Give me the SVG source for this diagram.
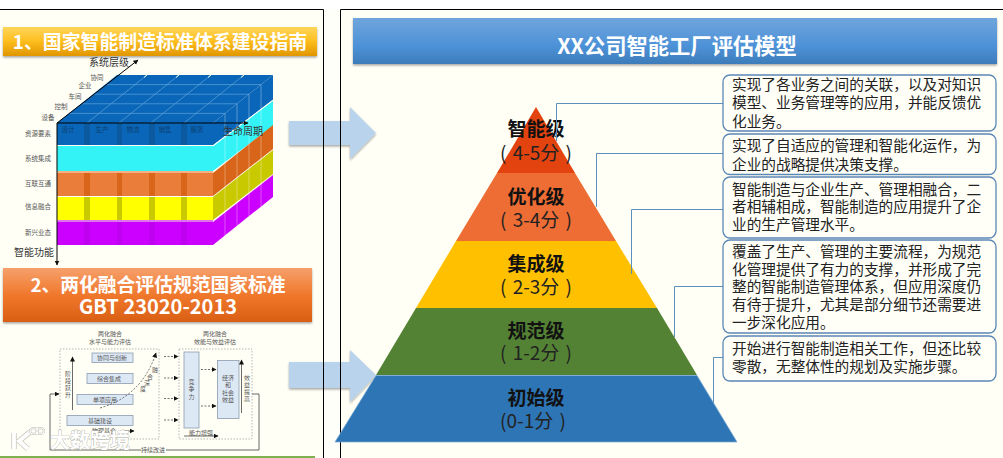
<svg xmlns="http://www.w3.org/2000/svg" width="1003" height="458" viewBox="0 0 1003 458">
<style>
text{font-family:"Noto Sans CJK SC","Noto Sans",sans-serif}
.hb{font-weight:700;fill:#fff;text-anchor:middle}
.lv{font-size:19px;font-weight:700;fill:#111;text-anchor:middle}
.sc{font-size:19px;fill:#222;text-anchor:middle;word-spacing:2px}
.d{font-size:14.67px;fill:#222}
.box{fill:#fffff8;stroke:#5b87b5;stroke-width:1.3}
.con{fill:none;stroke:#5b8fbe;stroke-width:1}
.s1{font-size:6.5px;fill:#555;text-anchor:middle}
.s2{font-size:6.5px;fill:#0b3f70;text-anchor:middle}
.s3{font-size:10px;fill:#333;text-anchor:middle}
.m{font-size:6px;fill:#555;text-anchor:middle}
.mb{fill:#dde8f5;stroke:#8a9bb0;stroke-width:.8}
.dash{fill:none;stroke:#999;stroke-width:.7;stroke-dasharray:1.5 1.5}
.da{fill:none;stroke:#333;stroke-width:.7;stroke-dasharray:2 1.5;marker-end:url(#ah)}
.sa{fill:none;stroke:#444;stroke-width:.8;marker-end:url(#ah)}
.ax{fill:none;stroke:#000;stroke-width:1;marker-end:url(#ah)}
.big{fill:#b9d3ec;filter:url(#sh)}
</style>
<defs>
<marker id="ah" markerWidth="6" markerHeight="6" refX="4.5" refY="2.5" orient="auto" markerUnits="userSpaceOnUse"><path d="M0 0L5 2.5L0 5z" fill="#111"/></marker>
<filter id="sh" x="-10%" y="-10%" width="120%" height="130%"><feDropShadow dx="0" dy="1.5" stdDeviation="1.2" flood-color="#000" flood-opacity=".35"/></filter>
<linearGradient id="g1" x1="0" y1="0" x2="0" y2="1"><stop offset="0" stop-color="#ffd65a"/><stop offset=".5" stop-color="#fdbd1d"/><stop offset="1" stop-color="#e09600"/></linearGradient>
<linearGradient id="g2" x1="0" y1="0" x2="0" y2="1"><stop offset="0" stop-color="#f6a06c"/><stop offset=".5" stop-color="#f0782c"/><stop offset="1" stop-color="#d95f14"/></linearGradient>
<linearGradient id="g3" x1="0" y1="0" x2="0" y2="1"><stop offset="0" stop-color="#70a5dc"/><stop offset=".6" stop-color="#4d92d8"/><stop offset="1" stop-color="#3d7cba"/></linearGradient>
</defs>
<rect width="1003" height="458" fill="#fff"/>
<rect x="0" y="9" width="323" height="449" fill="#fffff6"/>
<rect x="340" y="9" width="663" height="449" fill="#fffff6"/>
<rect x="323" y="9" width="17" height="449" fill="#fffffa"/>

<g id="arrow-1"><path class="big" d="M289 121H350V107L376 133L350 159V145H289z"/></g>
<g id="arrow-2"><path class="big" d="M289 362H350V350L376 375L350 402V388H289z"/></g>

<path d="M0 9.5H323.500V458M340.500 458V9.500H1003" fill="none" stroke="#000" stroke-width="1"/>
<rect x="0" y="456" width="315" height="2" fill="#7fb050"/>

<g id="banner-1">
<rect x="3" y="27" width="314" height="29" fill="url(#g1)" filter="url(#sh)"/>
<text class="hb" x="160" y="49" font-size="18.900">1、国家智能制造标准体系建设指南</text>
</g>

<g id="cube">
<polygon points="57,123 117,75 273,75 213,123" fill="#0a66b8"/>
<g id="cube-sides">
<polygon points="213,123 273,75 273,100 213,145" fill="#0a66b8"/>
<polygon points="213,146 273,101 273,126 213,171" fill="#33f3f7"/>
<polygon points="213,173 273,125 273,149 213,196" fill="#d9651a"/>
<polygon points="213,197 273,150 273,174 213,220" fill="#c9c900"/>
<polygon points="213,222 273,175 273,197 213,245" fill="#cc00ff"/>
</g>
<g id="cube-bands">
<rect x="57" y="123" width="156" height="22" fill="#0b5aa0"/>
<rect x="57" y="146" width="156" height="25" fill="#33f3f7"/>
<rect x="57" y="171" width="156" height="2" fill="#f4b183"/>
<rect x="57" y="173" width="156" height="23" fill="#d9651a"/>
<rect x="57" y="197" width="156" height="23" fill="#c9c900"/>
<rect x="57" y="220" width="156" height="2" fill="#e070f0"/>
<rect x="57" y="222" width="156" height="23" fill="#c000f0"/>
</g>
<g id="cube-cols" fill="#0a66b8">
<rect x="57" y="123" width="27" height="22"/><rect x="90" y="123" width="27" height="22"/><rect x="122" y="123" width="27" height="22"/><rect x="155" y="123" width="26" height="22"/><rect x="187" y="123" width="26" height="22"/>
</g>
<g fill="#ea7d3a">
<rect x="57" y="173" width="27" height="23"/><rect x="90" y="173" width="27" height="23"/><rect x="122" y="173" width="27" height="23"/><rect x="155" y="173" width="26" height="23"/><rect x="187" y="173" width="26" height="23"/>
</g>
<g fill="#ffff00">
<rect x="57" y="197" width="27" height="23"/><rect x="90" y="197" width="27" height="23"/><rect x="122" y="197" width="27" height="23"/><rect x="155" y="197" width="26" height="23"/><rect x="187" y="197" width="26" height="23"/>
</g>
<g fill="#cc00ff">
<rect x="57" y="222" width="27" height="23"/><rect x="90" y="222" width="27" height="23"/><rect x="122" y="222" width="27" height="23"/><rect x="155" y="222" width="26" height="23"/><rect x="187" y="222" width="26" height="23"/>
</g>
<path d="M69 113.400H225M81 103.800H237M93 94.200H249M105 84.600H261M87 123L147 75M119 123L179 75M151 123L211 75M184 123L244 75" fill="none" stroke="#5fa5dd" stroke-width=".7"/>
<path d="M225 113.400V235.400M237 103.800V225.800M249 94.200V216.200M261 84.600V206.600" fill="none" stroke="#fff" stroke-opacity=".45" stroke-width=".7"/>
<path d="M147 75l-3 2.400M179 75l-3 2.400M211 75l-3 2.400M244 75l-3 2.400M213 146L273 100" fill="none" stroke="#fffff6" stroke-width="1"/>
<path class="ax" d="M57 123L138 60"/>
<path class="ax" d="M57 123H248"/>
<path class="ax" d="M57 123V265"/>
<text class="s2" x="68" y="132">设计</text><text class="s2" x="102" y="132">生产</text><text class="s2" x="133" y="132">物流</text><text class="s2" x="165" y="132">销售</text><text class="s2" x="197" y="132">服务</text>
<text class="s1" x="38" y="135.500">资源要素</text><text class="s1" x="38" y="160.500">系统集成</text><text class="s1" x="38" y="186">互联互通</text><text class="s1" x="38" y="209">信息融合</text><text class="s1" x="38" y="235">新兴业态</text>
<text class="s1" x="48" y="119.500">设备</text><text class="s1" x="61" y="108.500">控制</text><text class="s1" x="75" y="98.500">车间</text><text class="s1" x="85" y="88">企业</text><text class="s1" x="97" y="80">协同</text>
<text class="s3" x="109" y="65.500">系统层级</text><text class="s3" x="243" y="134.500">生命周期</text><text class="s3" x="34" y="256">智能功能</text>
</g>

<g id="banner-2">
<rect x="3" y="268" width="309" height="54" fill="url(#g2)" filter="url(#sh)"/>
<text class="hb" x="158" y="292" font-size="18.800">2、两化融合评估规范国家标准</text>
<text class="hb" x="158" y="313.500" font-size="20">GBT 23020-2013</text>
</g>

<g id="integration-diagram">
<text class="m" x="110" y="336">两化融合</text><text class="m" x="110" y="344">水平与能力评估</text>
<text class="m" x="215" y="336">两化融合</text><text class="m" x="215" y="344">效能与效益评估</text>
<rect class="dash" x="60" y="349" width="99" height="90"/>
<rect class="dash" x="179" y="349" width="73" height="90"/>
<rect class="mb" x="92" y="353" width="41" height="9.500"/><text class="m" x="112" y="360">协同与创新</text>
<rect class="mb" x="87" y="373.500" width="46" height="10"/><text class="m" x="109" y="381">综合集成</text>
<rect class="mb" x="77" y="394.500" width="56" height="10"/><text class="m" x="105" y="402">单项应用</text>
<rect class="mb" x="67" y="415.500" width="66" height="10"/><text class="m" x="100" y="423">基础建设</text>
<text class="m" x="104" y="433">物理基合</text>
<text class="m" x="68 68 68 68" y="376 383 390 397">阶段跃升</text>
<path class="sa" d="M72.500 410V357"/>
<path class="da" d="M100 408Q142 396 156 353"/>
<text class="m" x="155 150 147 143" y="372 379 385 391">融合深度</text>
<path class="da" d="M164 356.500H178"/><path class="da" d="M164 378H178"/><path class="da" d="M164 398.500H178"/><path class="da" d="M164 420H178"/>
<rect class="mb" x="184" y="352" width="15" height="76"/>
<text class="m" x="191.500 191.500 191.500" y="384 391 399">竞争力</text>
<rect class="mb" x="217.500" y="360.500" width="21.500" height="58"/>
<text class="m"><tspan x="228" y="380">经济</tspan><tspan x="228" y="387">和</tspan><tspan x="228" y="394.500">社会</tspan><tspan x="228" y="402">效益</tspan></text>
<path class="da" d="M201 369.500H216"/><path class="da" d="M201 406H216"/>
<path class="sa" d="M241.500 413V360"/>
<text class="m" x="247 247 247 247" y="380 386.500 394 400.500">效益提高</text>
<text class="m" x="201" y="434.500">能力增强</text>
<path class="sa" d="M184 436H218"/>
<path class="sa" d="M123 431H134"/>
<path class="sa" d="M252 394H259V450H50V394H59"/>
<rect x="141" y="447" width="25" height="6" fill="#fffff6"/>
<text class="m" x="153" y="452">持续改进</text>
</g>

<g id="watermark">
<path d="M14 433V449M30 432L19 441L28 449" fill="none" stroke="#b5b5ad" stroke-width="5.500" opacity=".7"/>
<path d="M14 433V449M30 432L19 441L28 449" fill="none" stroke="#fff" stroke-width="3.800"/>
<ellipse cx="34" cy="431" rx="4" ry="3" fill="none" stroke="#b5b5ad" stroke-width="2.200"/>
<ellipse cx="40" cy="431" rx="4" ry="3" fill="none" stroke="#b5b5ad" stroke-width="2.200"/>
<ellipse cx="34" cy="431" rx="4" ry="3" fill="none" stroke="#fff" stroke-width="1.200"/>
<ellipse cx="40" cy="431" rx="4" ry="3" fill="none" stroke="#fff" stroke-width="1.200"/>
<text x="50" y="448" font-size="20" font-weight="700" fill="#fff" stroke="#a8a8a0" stroke-width=".7" paint-order="stroke">大数跨境</text>
</g>

<g id="pyramid">
<g id="level-5"><polygon points="536,107 575,173 497,173" fill="#e2430f"/><text class="lv" x="536" y="136">智能级</text><text class="sc" x="536" y="159.500">( 4-5分 )</text></g>
<g id="level-4"><polygon points="497,173 575,173 616,241 456,241" fill="#ed6d35"/><text class="lv" x="536" y="204">优化级</text><text class="sc" x="536" y="226.500">( 3-4分 )</text></g>
<g id="level-3"><polygon points="456,241 616,241 657,308 416,308" fill="#ffc000"/><text class="lv" x="536" y="270.500">集成级</text><text class="sc" x="536" y="293.500">( 2-3分 )</text></g>
<g id="level-2"><polygon points="416,308 657,308 697,375 376,375" fill="#548235"/><text class="lv" x="536" y="337.500">规范级</text><text class="sc" x="536" y="360">( 1-2分 )</text></g>
<g id="level-1"><polygon points="376,375.500 697,375.500 737,442 335,442" fill="#2e75b6" stroke="#7aa9d4" stroke-width=".7"/><text class="lv" x="536" y="404.500">初始级</text><text class="sc" x="533" y="427.500">(0-1分 )</text></g>
</g>

<g id="connectors">
<path class="con" d="M556.500 141V103.500H723"/>
<path class="con" d="M596.500 207V153.500H723"/>
<path class="con" d="M631.500 274V209.500H723"/>
<path class="con" d="M674.500 337V286.500H723"/>
<path class="con" d="M713.500 403V357.500H723"/>
</g>

<g id="title">
<rect x="353" y="18" width="644" height="46" fill="url(#g3)" filter="url(#sh)"/>
<text class="hb" x="677" y="53.500" font-size="21.300">XX公司智能工厂评估模型</text>
</g>

<g id="desc-5"><rect class="box" x="723" y="75" width="273" height="56" rx="7"/>
<text class="d" x="732" y="89.500">实现了各业务之间的关联，以及对知识</text><text class="d" x="732" y="108">模型、业务管理等的应用，并能反馈优</text><text class="d" x="732" y="126.500">化业务。</text></g>
<g id="desc-4"><rect class="box" x="723" y="134" width="273" height="40.500" rx="7"/>
<text class="d" x="732" y="151">实现了自适应的管理和智能化运作，为</text><text class="d" x="732" y="169.500">企业的战略提供决策支撑。</text></g>
<g id="desc-3"><rect class="box" x="723" y="177" width="273" height="61" rx="7"/>
<text class="d" x="732" y="195">智能制造与企业生产、管理相融合，二</text><text class="d" x="732" y="212">者相辅相成，智能制造的应用提升了企</text><text class="d" x="732" y="229.500">业的生产管理水平。</text></g>
<g id="desc-2"><rect class="box" x="723" y="240" width="273" height="93" rx="7"/>
<text class="d" x="732" y="256.500">覆盖了生产、管理的主要流程，为规范</text><text class="d" x="732" y="275">化管理提供了有力的支撑，并形成了完</text><text class="d" x="732" y="292">整的智能制造管理体系，但应用深度仍</text><text class="d" x="732" y="310">有待于提升，尤其是部分细节还需要进</text><text class="d" x="732" y="328">一步深化应用。</text></g>
<g id="desc-1"><rect class="box" x="723" y="336" width="273" height="45" rx="7"/>
<text class="d" x="732" y="354">开始进行智能制造相关工作，但还比较</text><text class="d" x="732" y="371.500">零散，无整体性的规划及实施步骤。</text></g>
</svg>
